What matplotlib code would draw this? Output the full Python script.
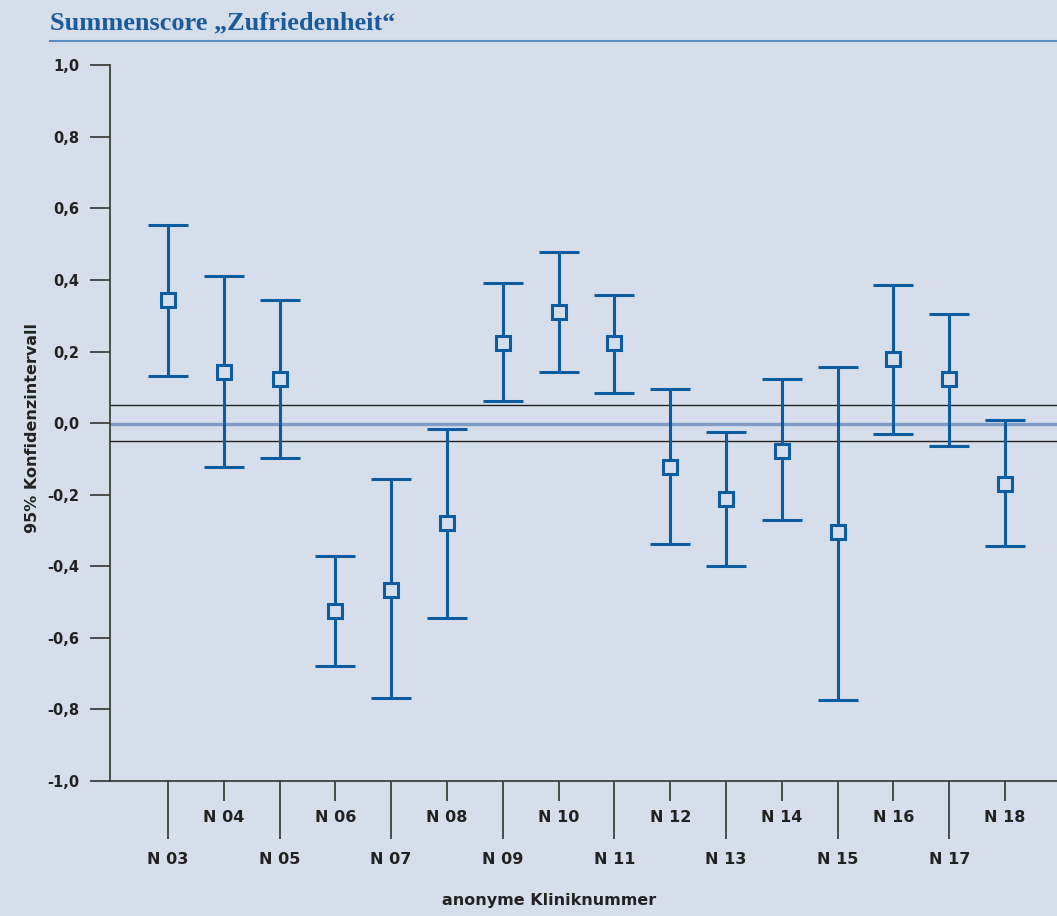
import numpy as np
import matplotlib
matplotlib.use("Agg")
import matplotlib.pyplot as plt
import matplotlib.ticker as ticker

BGCOLOR = "#d6deec"
BARCOLOR = "#0b5ca0"
AXCOLOR = "#333333"
TITLECOLOR = "#1b5b9b"

kliniken = ["N 03", "N 04", "N 05", "N 06", "N 07", "N 08", "N 09", "N 10",
            "N 11", "N 12", "N 13", "N 14", "N 15", "N 16", "N 17", "N 18"]
klinik_nr = [3, 4, 5, 6, 7, 8, 9, 10, 11, 12, 13, 14, 15, 16, 17, 18]
mittel = [0.344, 0.143, 0.123, -0.526, -0.466, -0.279, 0.224, 0.310,
          0.224, -0.124, -0.212, -0.078, -0.305, 0.178, 0.124, -0.171]
ki_unten = [0.131, -0.124, -0.098, -0.681, -0.768, -0.546, 0.062, 0.143,
            0.083, -0.338, -0.399, -0.272, -0.775, -0.031, -0.064, -0.345]
ki_oben = [0.553, 0.411, 0.345, -0.373, -0.157, -0.018, 0.392, 0.478,
           0.358, 0.096, -0.024, 0.123, 0.157, 0.385, 0.305, 0.009]
gesamt = -0.004
band = [-0.05, 0.05]
y_ticks = [-1.0, -0.8, -0.6, -0.4, -0.2, 0.0, 0.2, 0.4, 0.6, 0.8, 1.0]

x = np.asarray(klinik_nr)
m = np.asarray(mittel)
err = np.vstack([m - np.asarray(ki_unten), np.asarray(ki_oben) - m])

fig = plt.figure(figsize=(10.57, 9.16), dpi=100)
fig.set_facecolor(BGCOLOR)
ax = fig.add_axes([0.1045, 0.1479, 0.8955, 0.7806])
ax.set_facecolor(BGCOLOR)

for s in ["top", "right"]:
    ax.spines[s].set_visible(False)
for s in ["left", "bottom"]:
    ax.spines[s].set_color(AXCOLOR)
    ax.spines[s].set_linewidth(1.2)

# Referenzlinien
for b in band:
    ax.axhline(b, color="#222222", lw=1.0, zorder=1)
ax.axhline(gesamt, color="#7f9cc8", lw=2.4, zorder=1)

ax.errorbar(x, m, yerr=err, fmt="s", color=BARCOLOR, ecolor=BARCOLOR,
            elinewidth=2.2, capsize=14.4, capthick=2.2,
            markersize=9.5, markeredgewidth=2.2, markerfacecolor=BGCOLOR,
            markeredgecolor=BARCOLOR, zorder=3)

ax.set_xlim(1.97, 18.93)
ax.set_ylim(-1.0, 1.0)

# y-Achse
ax.set_yticks(y_ticks)
ax.set_yticklabels([f"{v:.1f}".replace(".", ",") for v in y_ticks])
ax.tick_params(axis="y", length=14.4, width=1.2, colors=AXCOLOR, pad=8,
               labelsize=10.5)
for t in ax.get_yticklabels():
    t.set_fontweight("bold")
    t.set_color("#222222")

# x-Achse: ungerade lang, gerade kurz
ungerade = [n for n in klinik_nr if n % 2 == 1]
gerade = [n for n in klinik_nr if n % 2 == 0]
lab = dict(zip(klinik_nr, kliniken))
ax.xaxis.set_major_locator(ticker.FixedLocator(ungerade))
ax.xaxis.set_major_formatter(ticker.FixedFormatter([lab[n] for n in ungerade]))
ax.xaxis.set_minor_locator(ticker.FixedLocator(gerade))
ax.xaxis.set_minor_formatter(ticker.FixedFormatter([lab[n] for n in gerade]))
ax.tick_params(axis="x", which="major", length=41.8, width=1.2,
               colors=AXCOLOR, pad=9.5, labelsize=11.5)
ax.tick_params(axis="x", which="minor", length=14.4, width=1.2,
               colors=AXCOLOR, pad=7, labelsize=11.5)
for t in ax.get_xticklabels(which="both"):
    t.set_fontweight("bold")
    t.set_color("#222222")

fig.text(33 / 1057, 1 - 428 / 916, "95% Konfidenzintervall", rotation=90,
         ha="center", va="center", fontsize=11.5, fontweight="bold",
         color="#222222")
fig.text(549 / 1057, 1 - 900 / 916, "anonyme Kliniknummer", ha="center",
         va="center", fontsize=11.5, fontweight="bold", color="#222222")

# Titel
fig.text(50 / 1057, 1 - 23 / 916, "Summenscore \u201eZufriedenheit\u201c",
         ha="left", va="center", fontsize=19, fontweight="bold",
         family="Liberation Serif", color=TITLECOLOR)
fig.add_artist(plt.Line2D([50 / 1057, 1.0], [1 - 41 / 916, 1 - 41 / 916],
                          color="#5b8cc0", lw=1.5, transform=fig.transFigure))

fig.savefig("out.png", dpi=100, facecolor=BGCOLOR)
